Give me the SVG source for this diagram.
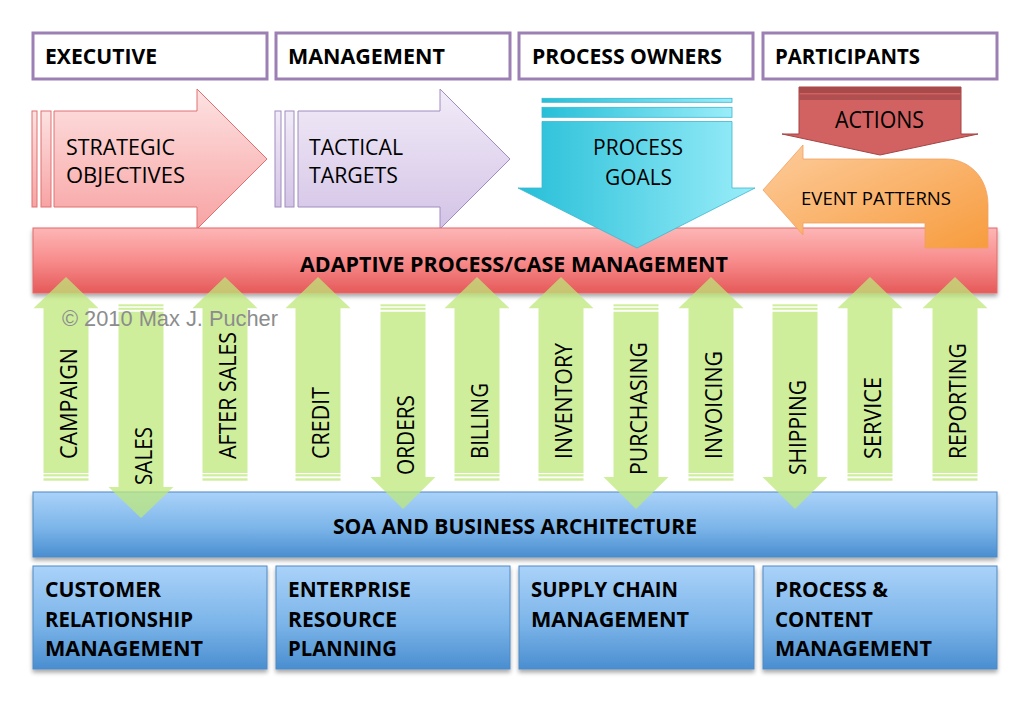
<svg xmlns="http://www.w3.org/2000/svg" xmlns:xlink="http://www.w3.org/1999/xlink" width="1034" height="703" viewBox="0 0 1034 703">
<defs>
<style>
.hdr{fill:#ffffff;stroke:#9c7fb3;stroke-width:3}
.b{font-family:"Open Sans","Noto Sans","DejaVu Sans",sans-serif;font-weight:bold;fill:#000}
.r{font-family:"Open Sans","Noto Sans","DejaVu Sans",sans-serif;fill:#000}
.g{fill:#bde87a;fill-opacity:0.74}
.blue{fill:url(#gBlue);stroke:#5089c4;stroke-width:1}
</style>
<linearGradient id="gRed" x1="0" y1="0" x2="0" y2="1">
<stop offset="0" stop-color="#fdb6b6"/><stop offset="0.5" stop-color="#f88c8c"/><stop offset="1" stop-color="#e55a5a"/>
</linearGradient>
<linearGradient id="gBlue" x1="0" y1="0" x2="0" y2="1">
<stop offset="0" stop-color="#aad2f9"/><stop offset="0.55" stop-color="#7cb5e9"/><stop offset="1" stop-color="#4a8ed0"/>
</linearGradient>
<linearGradient id="gPink" x1="0" y1="0" x2="0" y2="1">
<stop offset="0" stop-color="#fde2e2"/><stop offset="1" stop-color="#f8a3a3"/>
</linearGradient>
<linearGradient id="gLav" x1="0" y1="0" x2="0" y2="1">
<stop offset="0" stop-color="#f2ecf8"/><stop offset="1" stop-color="#d3c3e6"/>
</linearGradient>
<linearGradient id="gCyan" x1="0" y1="0" x2="1" y2="0">
<stop offset="0" stop-color="#26bfd8"/><stop offset="1" stop-color="#9aedf9"/>
</linearGradient>
<linearGradient id="gOrange" x1="0" y1="0" x2="1" y2="1">
<stop offset="0" stop-color="#fdcc9c"/><stop offset="1" stop-color="#f79c3e"/>
</linearGradient>
<filter id="sh" x="-5%" y="-20%" width="110%" height="150%">
<feDropShadow dx="0" dy="3" stdDeviation="2" flood-color="#000" flood-opacity="0.35"/>
</filter>
<g id="up">
<path class="g" d="M0,277 L32.5,308.3 L22.5,308.3 L22.5,473 L-22.5,473 L-22.5,308.3 L-32.5,308.3 Z"/>
<rect class="g" x="-22.5" y="474.2" width="45" height="2.2"/>
<rect class="g" x="-22.5" y="478.3" width="45" height="2.4"/>
</g>
<g id="down">
<rect class="g" x="-22.5" y="304.3" width="45" height="2"/>
<rect class="g" x="-22.5" y="307.8" width="45" height="2"/>
<path class="g" d="M-22.5,311.7 L22.5,311.7 L22.5,477 L32.5,477 L0,509 L-32.5,477 L-22.5,477 Z"/>
</g>
<g id="downLong">
<rect class="g" x="-22.5" y="304.3" width="45" height="2"/>
<rect class="g" x="-22.5" y="307.8" width="45" height="2"/>
<path class="g" d="M-22.5,311.7 L22.5,311.7 L22.5,487 L32.5,487 L0,518 L-32.5,487 L-22.5,487 Z"/>
</g>
</defs>
<rect x="0" y="0" width="1034" height="703" fill="#ffffff"/>

<g id="header-executive"><rect class="hdr" x="33" y="33" width="234" height="46"/><text class="b" x="45" y="64" font-size="21" textLength="112" lengthAdjust="spacingAndGlyphs">EXECUTIVE</text></g>
<g id="header-management"><rect class="hdr" x="276" y="33" width="234" height="46"/><text class="b" x="288" y="64" font-size="21" textLength="157" lengthAdjust="spacingAndGlyphs">MANAGEMENT</text></g>
<g id="header-process-owners"><rect class="hdr" x="519" y="33" width="234" height="46"/><text class="b" x="532" y="64" font-size="21" textLength="190" lengthAdjust="spacingAndGlyphs">PROCESS OWNERS</text></g>
<g id="header-participants"><rect class="hdr" x="763" y="33" width="234" height="46"/><text class="b" x="775" y="64" font-size="21" textLength="145" lengthAdjust="spacingAndGlyphs">PARTICIPANTS</text></g>

<g id="strategic-objectives">
<rect x="32" y="111" width="5" height="96" fill="url(#gPink)" stroke="#e07070" stroke-width="1"/>
<rect x="41" y="111" width="10" height="96" fill="url(#gPink)" stroke="#e07070" stroke-width="1"/>
<path d="M54,111 L197,111 L197,89 L267,159 L197,229 L197,207 L54,207 Z" fill="url(#gPink)" stroke="#e07070" stroke-width="1"/>
<text class="r" x="66" y="155" font-size="21.5" textLength="109" lengthAdjust="spacingAndGlyphs">STRATEGIC</text>
<text class="r" x="66" y="183" font-size="21.5" textLength="119" lengthAdjust="spacingAndGlyphs">OBJECTIVES</text>
</g>
<g id="tactical-targets">
<rect x="275" y="111" width="6" height="96" fill="url(#gLav)" stroke="#a08cc0" stroke-width="1"/>
<rect x="285" y="111" width="9" height="96" fill="url(#gLav)" stroke="#a08cc0" stroke-width="1"/>
<path d="M298,111 L440,111 L440,89 L510,159 L440,229 L440,207 L298,207 Z" fill="url(#gLav)" stroke="#a08cc0" stroke-width="1"/>
<text class="r" x="309" y="155" font-size="21.5" textLength="94" lengthAdjust="spacingAndGlyphs">TACTICAL</text>
<text class="r" x="309" y="183" font-size="21.5" textLength="89" lengthAdjust="spacingAndGlyphs">TARGETS</text>
</g>

<g id="adaptive-process-case-management">
<rect x="33" y="228" width="964" height="65" fill="url(#gRed)" stroke="#e26a6a" stroke-width="1" filter="url(#sh)"/>
<text class="b" x="300" y="272" font-size="22" textLength="428" lengthAdjust="spacingAndGlyphs">ADAPTIVE PROCESS/CASE MANAGEMENT</text>
</g>

<g id="process-goals">
<rect x="542" y="98.3" width="190" height="4" fill="url(#gCyan)" stroke="#3cb6cf" stroke-width="0.8"/>
<rect x="542" y="107.3" width="190" height="10" fill="url(#gCyan)" stroke="#3cb6cf" stroke-width="0.8"/>
<path d="M542,121.5 L732,121.5 L732,188 L755,188 L637,248 L518,188 L542,188 Z" fill="url(#gCyan)" stroke="#3cb6cf" stroke-width="0.8"/>
<text class="r" x="593" y="155" font-size="22.5" textLength="90" lengthAdjust="spacingAndGlyphs">PROCESS</text>
<text class="r" x="605" y="185" font-size="22.5" textLength="67" lengthAdjust="spacingAndGlyphs">GOALS</text>
</g>

<g id="actions">
<path d="M799,87 L961,87 L961,134 L978,134 L880,155 L782,134 L799,134 Z" fill="#d26161" stroke="#a44545" stroke-width="1"/>
<rect x="799" y="87" width="162" height="6" fill="#a84a4a"/>
<rect x="799" y="94.5" width="162" height="5.5" fill="#b04f4f"/>
<text class="r" x="835" y="128" font-size="23" textLength="89" lengthAdjust="spacingAndGlyphs">ACTIONS</text>
</g>

<g id="event-patterns">
<path d="M763,190 L803,145 L803,159 L945,159 C970,159 988,178 988,205 L988,248 L925,248 L925,223 L803,223 L803,235 Z" fill="url(#gOrange)" stroke="#f0a060" stroke-width="0.8"/>
<text class="r" x="801" y="205" font-size="18.5" textLength="150" lengthAdjust="spacingAndGlyphs">EVENT PATTERNS</text>
</g>

<g id="soa-business-architecture">
<rect class="blue" x="33" y="492" width="964" height="65" filter="url(#sh)"/>
<text class="b" x="333" y="534" font-size="21" textLength="364" lengthAdjust="spacingAndGlyphs">SOA AND BUSINESS ARCHITECTURE</text>
</g>

<g id="crm">
<rect class="blue" x="33" y="566" width="234" height="103" filter="url(#sh)"/>
<text class="b" x="45" y="597" font-size="21" textLength="116" lengthAdjust="spacingAndGlyphs">CUSTOMER</text>
<text class="b" x="45" y="627" font-size="21" textLength="148" lengthAdjust="spacingAndGlyphs">RELATIONSHIP</text>
<text class="b" x="45" y="656" font-size="21" textLength="158" lengthAdjust="spacingAndGlyphs">MANAGEMENT</text>
</g>
<g id="erp">
<rect class="blue" x="276" y="566" width="234" height="103" filter="url(#sh)"/>
<text class="b" x="288" y="597" font-size="21" textLength="123" lengthAdjust="spacingAndGlyphs">ENTERPRISE</text>
<text class="b" x="288" y="627" font-size="21" textLength="109" lengthAdjust="spacingAndGlyphs">RESOURCE</text>
<text class="b" x="288" y="656" font-size="21" textLength="109" lengthAdjust="spacingAndGlyphs">PLANNING</text>
</g>
<g id="scm">
<rect class="blue" x="519" y="566" width="235" height="103" filter="url(#sh)"/>
<text class="b" x="531" y="597" font-size="21" textLength="147" lengthAdjust="spacingAndGlyphs">SUPPLY CHAIN</text>
<text class="b" x="531" y="627" font-size="21" textLength="158" lengthAdjust="spacingAndGlyphs">MANAGEMENT</text>
</g>
<g id="pcm">
<rect class="blue" x="763" y="566" width="234" height="103" filter="url(#sh)"/>
<text class="b" x="775" y="597" font-size="21" textLength="113" lengthAdjust="spacingAndGlyphs">PROCESS &amp;</text>
<text class="b" x="775" y="627" font-size="21" textLength="98" lengthAdjust="spacingAndGlyphs">CONTENT</text>
<text class="b" x="775" y="656" font-size="21" textLength="157" lengthAdjust="spacingAndGlyphs">MANAGEMENT</text>
</g>

<g id="connectors">
<use xlink:href="#up" href="#up" x="66"/>
<use xlink:href="#downLong" href="#downLong" x="141"/>
<use xlink:href="#up" href="#up" x="225"/>
<use xlink:href="#up" href="#up" x="318"/>
<use xlink:href="#down" href="#down" x="403"/>
<use xlink:href="#up" href="#up" x="477"/>
<use xlink:href="#up" href="#up" x="561"/>
<use xlink:href="#down" href="#down" x="636"/>
<use xlink:href="#up" href="#up" x="711"/>
<use xlink:href="#down" href="#down" x="795"/>
<use xlink:href="#up" href="#up" x="870"/>
<use xlink:href="#up" href="#up" x="955"/>
<g class="r" font-size="23">
<text class="r" transform="translate(77,459) rotate(-90)" textLength="111" lengthAdjust="spacingAndGlyphs">CAMPAIGN</text>
<text class="r" transform="translate(152,485) rotate(-90)" textLength="58" lengthAdjust="spacingAndGlyphs">SALES</text>
<text class="r" transform="translate(236,459) rotate(-90)" textLength="127" lengthAdjust="spacingAndGlyphs">AFTER SALES</text>
<text class="r" transform="translate(329,459) rotate(-90)" textLength="72" lengthAdjust="spacingAndGlyphs">CREDIT</text>
<text class="r" transform="translate(414,475) rotate(-90)" textLength="80" lengthAdjust="spacingAndGlyphs">ORDERS</text>
<text class="r" transform="translate(488,459) rotate(-90)" textLength="76" lengthAdjust="spacingAndGlyphs">BILLING</text>
<text class="r" transform="translate(572,459) rotate(-90)" textLength="116" lengthAdjust="spacingAndGlyphs">INVENTORY</text>
<text class="r" transform="translate(647,475) rotate(-90)" textLength="133" lengthAdjust="spacingAndGlyphs">PURCHASING</text>
<text class="r" transform="translate(722,459) rotate(-90)" textLength="108" lengthAdjust="spacingAndGlyphs">INVOICING</text>
<text class="r" transform="translate(806,475) rotate(-90)" textLength="95" lengthAdjust="spacingAndGlyphs">SHIPPING</text>
<text class="r" transform="translate(881,459) rotate(-90)" textLength="82" lengthAdjust="spacingAndGlyphs">SERVICE</text>
<text class="r" transform="translate(966,459) rotate(-90)" textLength="116" lengthAdjust="spacingAndGlyphs">REPORTING</text>
</g>
</g>

<text x="62" y="326" font-family="'Liberation Sans',Arial,sans-serif" font-size="22" fill="#8c8c8c" textLength="216" lengthAdjust="spacingAndGlyphs">© 2010 Max J. Pucher</text>
</svg>
